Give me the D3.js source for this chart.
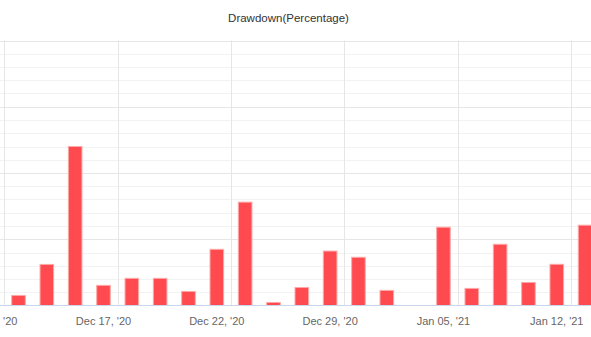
<!DOCTYPE html>
<html>
<head>
<meta charset="utf-8">
<script src="https://cdn.jsdelivr.net/npm/d3@7"></script>
<style>
  html, body { margin: 0; padding: 0; background: #fff; }
  svg { display: block; }
</style>
</head>
<body>
<svg id="chart" width="591" height="337"></svg>
<script>
// ---- data ----
const titleText = "Drawdown(Percentage)";
const dates = [
  "2020-12-11","2020-12-14","2020-12-15","2020-12-16","2020-12-17","2020-12-18",
  "2020-12-19","2020-12-21","2020-12-22","2020-12-23","2020-12-24","2020-12-28",
  "2020-12-29","2020-12-30","2020-12-31","2021-01-04","2021-01-05","2021-01-06",
  "2021-01-07","2021-01-11","2021-01-12","2021-01-13"
];
const drawdown = [
  null, 0.76, 3.1, 12.0, 1.52, 2.05,
  2.05, 1.06, 4.24, 7.8, 0.23, 1.36,
  4.11, 3.64, 1.14, 0, 5.91, 1.29,
  4.62, 1.74, 3.11, 6.06
];
const labelEvery = 4;       // show a label every 4th category
const yMax = 20, yMajor = 5, yMinor = 1;

// ---- layout ----
const W = 591, H = 337;
const plotTop = 40.5, plotBottom = 305.5;
const step = 28.33;
const firstCenter = 18.5 - step;             // centre of category 0 (Dec 11)
const xLeft = firstCenter - step / 2;
const xRight = xLeft + step * dates.length;
const font = "'Liberation Sans', Arial, Helvetica, sans-serif";

const svg = d3.select("#chart");
const parse = d3.timeParse("%Y-%m-%d");
const fmt = d3.timeFormat("%b %d, '%y");

const x = d3.scaleBand().domain(dates).range([xLeft, xRight]).paddingInner(0).paddingOuter(0);
const y = d3.scaleLinear().domain([0, yMax]).range([plotBottom, plotTop]);

// minor grid
const minorVals = d3.range(0, yMax + 0.001, yMinor).filter(v => v % yMajor !== 0);
svg.append("g").selectAll("line").data(minorVals).join("line")
  .attr("x1", 0).attr("x2", W)
  .attr("y1", d => Math.round(y(d)) + 0.5).attr("y2", d => Math.round(y(d)) + 0.5)
  .attr("stroke", "#f2f2f2").attr("stroke-width", 1);

// major grid
const majorVals = d3.range(yMajor, yMax + 0.001, yMajor);
svg.append("g").selectAll("line").data(majorVals).join("line")
  .attr("x1", 0).attr("x2", W)
  .attr("y1", d => Math.round(y(d)) + 0.5).attr("y2", d => Math.round(y(d)) + 0.5)
  .attr("stroke", "#e6e6e6").attr("stroke-width", 1);

// vertical grid lines (right edge of every labelled category)
const labelled = dates.filter((d, i) => i % labelEvery === 0);
svg.append("g").selectAll("line").data(labelled).join("line")
  .attr("x1", d => Math.round(x(d) + x.bandwidth()) + 0.5)
  .attr("x2", d => Math.round(x(d) + x.bandwidth()) + 0.5)
  .attr("y1", plotTop).attr("y2", plotBottom)
  .attr("stroke", "#e6e6e6").attr("stroke-width", 1);

// bars
const barW = 13.6;
svg.append("g").selectAll("rect")
  .data(dates.map((d, i) => ({ d, v: drawdown[i] })).filter(o => o.v))
  .join("rect")
  .attr("x", o => x(o.d) + x.bandwidth() / 2 - barW / 2)
  .attr("y", o => y(o.v))
  .attr("width", barW)
  .attr("height", o => y(0) - y(o.v))
  .attr("fill", "#ff4b4f")
  .attr("stroke", "#ffa8a8")
  .attr("stroke-width", 1);

// x axis line
svg.append("line")
  .attr("x1", 0).attr("x2", W)
  .attr("y1", plotBottom).attr("y2", plotBottom)
  .attr("stroke", "#ccd6eb").attr("stroke-width", 1);

// x labels
svg.append("g").selectAll("text").data(labelled).join("text")
  .attr("x", d => x(d) + x.bandwidth() / 2)
  .attr("y", 325)
  .attr("text-anchor", "middle")
  .attr("font-family", font)
  .attr("font-size", "11px")
  .attr("fill", "#666666")
  .text(d => fmt(parse(d)));

// title
svg.append("text")
  .attr("x", 288.5).attr("y", 22)
  .attr("text-anchor", "middle")
  .attr("font-family", font)
  .attr("font-size", "11.5px")
  .attr("fill", "#333333")
  .text(titleText);
</script>
</body>
</html>
